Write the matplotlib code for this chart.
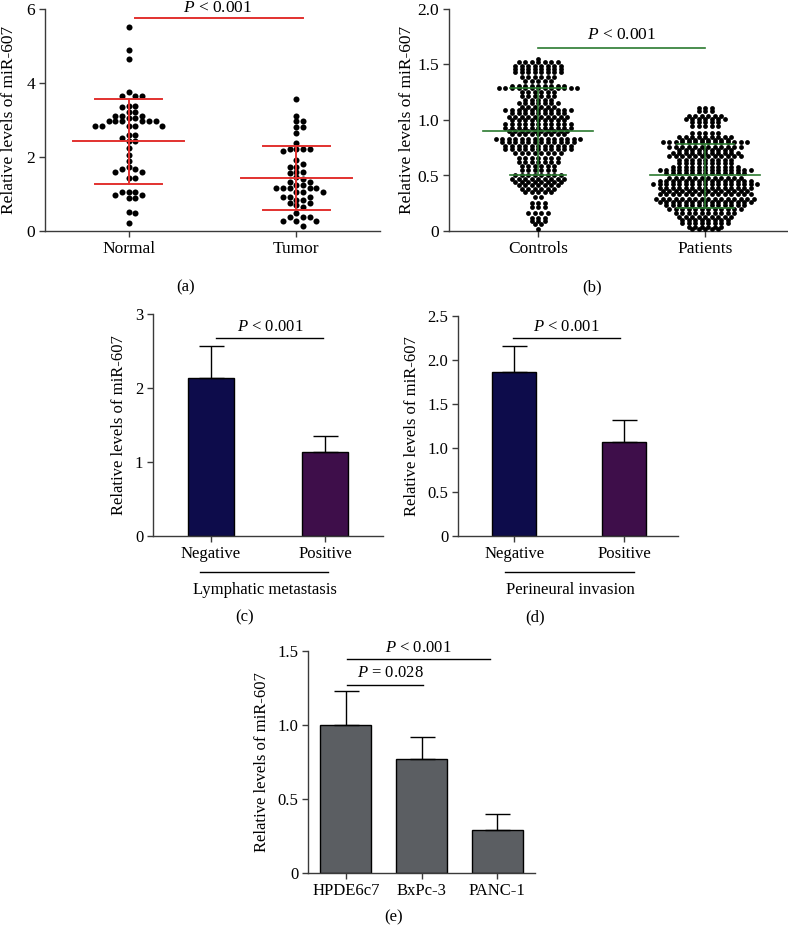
import matplotlib
matplotlib.use("Agg")
import matplotlib.pyplot as plt
import numpy as np

plt.rcParams["font.family"] = "Liberation Serif"
plt.rcParams["mathtext.fontset"] = "custom"
plt.rcParams["mathtext.it"] = "Liberation Serif:italic"
plt.rcParams["mathtext.rm"] = "Liberation Serif"

W, H = 788, 933
AX = "#3a3a3a"

# (a) tissue samples
a_groups = ["Normal", "Tumor"]
a_normal = [5.52, 4.89, 4.64, 3.75, 3.65, 3.65, 3.65, 3.39, 3.39, 3.34, 3.22, 3.22,
            3.11, 3.11, 3.11, 3.05, 3.05, 2.97, 2.97, 2.97, 2.97, 2.97, 2.97,
            2.85, 2.85, 2.85, 2.85, 2.85, 2.59, 2.59, 2.52, 2.44, 2.44, 2.23, 2.05,
            1.90, 1.73, 1.67, 1.67, 1.60, 1.60, 1.44, 1.44, 1.06, 1.06, 1.06,
            0.97, 0.97, 0.90, 0.90, 0.52, 0.48, 0.21]
a_tumor = [3.58, 3.12, 2.96, 2.96, 2.82, 2.82, 2.64, 2.39, 2.21, 2.21, 2.21, 2.21,
           2.16, 1.92, 1.81, 1.74, 1.74, 1.60, 1.60, 1.56, 1.45, 1.40, 1.32, 1.32,
           1.24, 1.24, 1.15, 1.15, 1.15, 1.15, 1.15, 1.06, 1.06, 1.06, 0.93, 0.93,
           0.93, 0.84, 0.84, 0.75, 0.75, 0.70, 0.64, 0.49, 0.39, 0.39, 0.39,
           0.27, 0.27, 0.27, 0.14]
a_mean = [2.43, 1.43]
a_sd_hi = [3.58, 2.29]
a_sd_lo = [1.27, 0.57]

# (b) serum samples: dot rows (level, number of dots)
b_groups = ["Controls", "Patients"]
ctrl_levels = [1.55, 1.52, 1.49, 1.46, 1.43, 1.39, 1.35, 1.31, 1.285, 1.25, 1.22,
               1.18, 1.15, 1.12, 1.09, 1.06, 1.03, 1.00, 0.96, 0.93, 0.90, 0.87,
               0.83, 0.80, 0.77, 0.74, 0.70, 0.66, 0.62, 0.59, 0.55, 0.50, 0.47,
               0.44, 0.41, 0.38, 0.35, 0.31, 0.25, 0.22, 0.16, 0.12, 0.09, 0.06, 0.02]
ctrl_counts = [1, 7, 8, 8, 8, 6, 5, 9, 13, 6, 6, 5, 7, 6, 11, 9, 10, 9, 11, 11, 10,
               9, 14, 12, 11, 11, 8, 7, 7, 6, 6, 8, 9, 8, 7, 6, 5, 2, 3, 3, 4, 3,
               3, 2, 1]
pat_levels = [1.11, 1.08, 1.04, 1.01, 0.98, 0.95, 0.88, 0.85, 0.82, 0.80, 0.76,
              0.73, 0.70, 0.68, 0.64, 0.61, 0.58, 0.55, 0.52, 0.48, 0.45, 0.42,
              0.39, 0.36, 0.33, 0.29, 0.26, 0.23, 0.20, 0.16, 0.13, 0.10, 0.07,
              0.04, 0.02]
pat_counts = [3, 3, 6, 7, 5, 5, 5, 9, 8, 14, 12, 9, 11, 12, 9, 9, 11, 15, 13, 12,
              15, 17, 15, 14, 15, 16, 15, 13, 12, 10, 9, 8, 8, 6, 5]
b_mean = [0.90, 0.50]
b_sd_hi = [1.29, 0.78]
b_sd_lo = [0.50, 0.21]

# (c) lymphatic metastasis, (d) perineural invasion
cd_groups = ["Negative", "Positive"]
c_mean = [2.13, 1.14]
c_err = [0.44, 0.21]
d_mean = [1.86, 1.07]
d_err = [0.30, 0.25]

# (e) cell lines
e_groups = ["HPDE6c7", "BxPc-3", "PANC-1"]
e_mean = [1.00, 0.77, 0.29]
e_err = [0.23, 0.15, 0.11]


def box(l, t, r, b):
    return [l / W, 1 - b / H, (r - l) / W, (b - t) / H]


def style(ax, fs):
    for s in ("top", "right"):
        ax.spines[s].set_visible(False)
    for s in ("left", "bottom"):
        ax.spines[s].set_color(AX)
        ax.spines[s].set_linewidth(1)
    ax.tick_params(direction="out", length=4, width=1, color=AX, labelsize=fs, pad=3)


def swarm_x(values, center, step, xscale, yscale, diam):
    # greedy dot placement, highest value first
    values = np.asarray(values)
    order = np.argsort(values)[::-1]
    placed = []
    xs = np.zeros(len(values))
    cands = [0]
    for k in range(1, 30):
        cands += [k, -k]
    for i in order:
        y = values[i] * yscale
        for k in cands:
            x = k * step * xscale
            if all((x - px) ** 2 + (y - py) ** 2 >= diam ** 2 for px, py in placed):
                break
        placed.append((x, y))
        xs[i] = center + k * step
    return xs


def row_x(counts, center, step):
    return np.concatenate([center + (np.arange(n) - (n - 1) / 2) * step for n in counts])


def mean_sd(ax, i, m, hi, lo, color, lw, wm, ws):
    ax.plot([i - wm, i + wm], [m, m], color=color, lw=lw, zorder=4)
    ax.plot([i - ws, i + ws], [hi, hi], color=color, lw=lw, zorder=4)
    ax.plot([i - ws, i + ws], [lo, lo], color=color, lw=lw, zorder=4)
    ax.plot([i, i], [lo, hi], color=color, lw=lw, zorder=4)


def ylab(ax, x, fs):
    ax.set_ylabel("Relative levels of miR-607", fontsize=fs)
    ax.yaxis.label.set_va("center")
    ax.yaxis.set_label_coords(x, 0.5)


fig = plt.figure(figsize=(W / 100, H / 100), dpi=100)

# ---- (a)
ax = fig.add_axes(box(45, 9, 380, 231))
style(ax, 12.5)
red = "#e2312f"
for i, vals in enumerate([a_normal, a_tumor]):
    xs = swarm_x(vals, i, 0.04, 167, 37, 5.0)
    ax.scatter(xs, vals, s=19, color="black", linewidths=0, zorder=3, clip_on=False)
    mean_sd(ax, i, a_mean[i], a_sd_hi[i], a_sd_lo[i], red, 1.4, 0.33, 0.2)
ax.plot([0.04, 1.04], [5.75, 5.75], color=red, lw=1.4, clip_on=False)
ax.text(0.53, 6.03, "$P$ < 0.001", ha="center", va="center", fontsize=12.5)
ax.set_xlim(-0.5, 1.5)
ax.set_ylim(0, 6)
ax.set_yticks([0, 2, 4, 6])
ax.set_xticks([0, 1])
ax.set_xticklabels(a_groups, fontsize=12.5)
ylab(ax, -0.107, 12.5)

# ---- (b)
ax = fig.add_axes(box(449, 9, 787, 231))
style(ax, 12.5)
green = "#2b7a30"
for i, (lv, ct) in enumerate([(ctrl_levels, ctrl_counts), (pat_levels, pat_counts)]):
    ys = np.repeat(lv, ct)
    xs = row_x(ct, i, 0.039)
    ax.scatter(xs, ys, s=12, color="black", linewidths=0, zorder=3, clip_on=False)
    mean_sd(ax, i, b_mean[i], b_sd_hi[i], b_sd_lo[i], green, 1.2, 0.33, 0.17)
ax.plot([0, 1], [1.65, 1.65], color=green, lw=1.2)
ax.text(0.5, 1.766, "$P$ < 0.001", ha="center", va="center", fontsize=12.5)
ax.set_xlim(-0.533, 1.49)
ax.set_ylim(0, 2)
ax.set_yticks([0, 0.5, 1.0, 1.5, 2.0])
ax.set_yticklabels(["0", "0.5", "1.0", "1.5", "2.0"])
ax.set_xticks([0, 1])
ax.set_xticklabels(b_groups, fontsize=12.5)
ylab(ax, -0.124, 12.5)


def bar_panel(ax, groups, means, errs, colors, width, fs):
    x = np.arange(len(groups))
    ax.bar(x, means, width=width, color=colors, edgecolor="black", linewidth=1, zorder=2)
    ax.errorbar(x, means, yerr=[np.zeros(len(errs)), errs], fmt="none", ecolor="black",
                elinewidth=1, capsize=9, capthick=1, zorder=3)
    ax.set_xticks(x)
    ax.set_xticklabels(groups, fontsize=fs)


# ---- (c)
ax = fig.add_axes(box(153, 314, 383, 536))
style(ax, 12)
bar_panel(ax, cd_groups, c_mean, c_err, ["#0d0c4b", "#3e0e4a"], 0.4, 12)
ax.plot([0.04, 0.98], [2.67, 2.67], color="black", lw=1)
ax.text(0.52, 2.83, "$P$ < 0.001", ha="center", va="center", fontsize=12)
ax.set_xlim(-0.509, 1.509)
ax.set_ylim(0, 3)
ax.set_yticks([0, 1, 2, 3])
ylab(ax, -0.148, 12)
tr = ax.get_xaxis_transform()
ax.plot([-0.1, 1.03], [-0.162, -0.162], color="black", lw=1, transform=tr, clip_on=False)
ax.text(0.47, -0.245, "Lymphatic metastasis", transform=tr, ha="center", va="center",
        fontsize=12)

# ---- (d)
ax = fig.add_axes(box(458, 316, 678, 536))
style(ax, 12)
bar_panel(ax, cd_groups, d_mean, d_err, ["#0d0c4b", "#3e0e4a"], 0.4, 12)
ax.plot([-0.01, 0.96], [2.25, 2.25], color="black", lw=1)
ax.text(0.47, 2.38, "$P$ < 0.001", ha="center", va="center", fontsize=12)
ax.set_xlim(-0.51, 1.49)
ax.set_ylim(0, 2.5)
ax.set_yticks([0, 0.5, 1.0, 1.5, 2.0, 2.5])
ax.set_yticklabels(["0", "0.5", "1.0", "1.5", "2.0", "2.5"])
ylab(ax, -0.209, 12)
tr = ax.get_xaxis_transform()
ax.plot([-0.08, 1.09], [-0.164, -0.164], color="black", lw=1, transform=tr, clip_on=False)
ax.text(0.51, -0.247, "Perineural invasion", transform=tr, ha="center", va="center",
        fontsize=12)

# ---- (e)
ax = fig.add_axes(box(308, 651, 535, 873))
style(ax, 12)
bar_panel(ax, e_groups, e_mean, e_err, ["#5b5e62"] * 3, 0.67, 12)
ax.plot([0.02, 1.02], [1.27, 1.27], color="black", lw=1)
ax.text(0.59, 1.35, "$P$ = 0.028", ha="center", va="center", fontsize=12)
ax.plot([0.02, 1.9], [1.445, 1.445], color="black", lw=1, clip_on=False)
ax.text(0.96, 1.52, "$P$ < 0.001", ha="center", va="center", fontsize=12)
ax.set_xlim(-0.5, 2.5)
ax.set_ylim(0, 1.5)
ax.set_yticks([0, 0.5, 1.0, 1.5])
ax.set_yticklabels(["0", "0.5", "1.0", "1.5"])
ylab(ax, -0.204, 12)

# panel letters
for s, px, py in [("(a)", 186, 287), ("(b)", 592, 287), ("(c)", 245, 617),
                  ("(d)", 535, 617), ("(e)", 394, 917)]:
    fig.text(px / W, 1 - py / H, s, ha="center", va="center", fontsize=12)

fig.savefig("out.png", dpi=100)
